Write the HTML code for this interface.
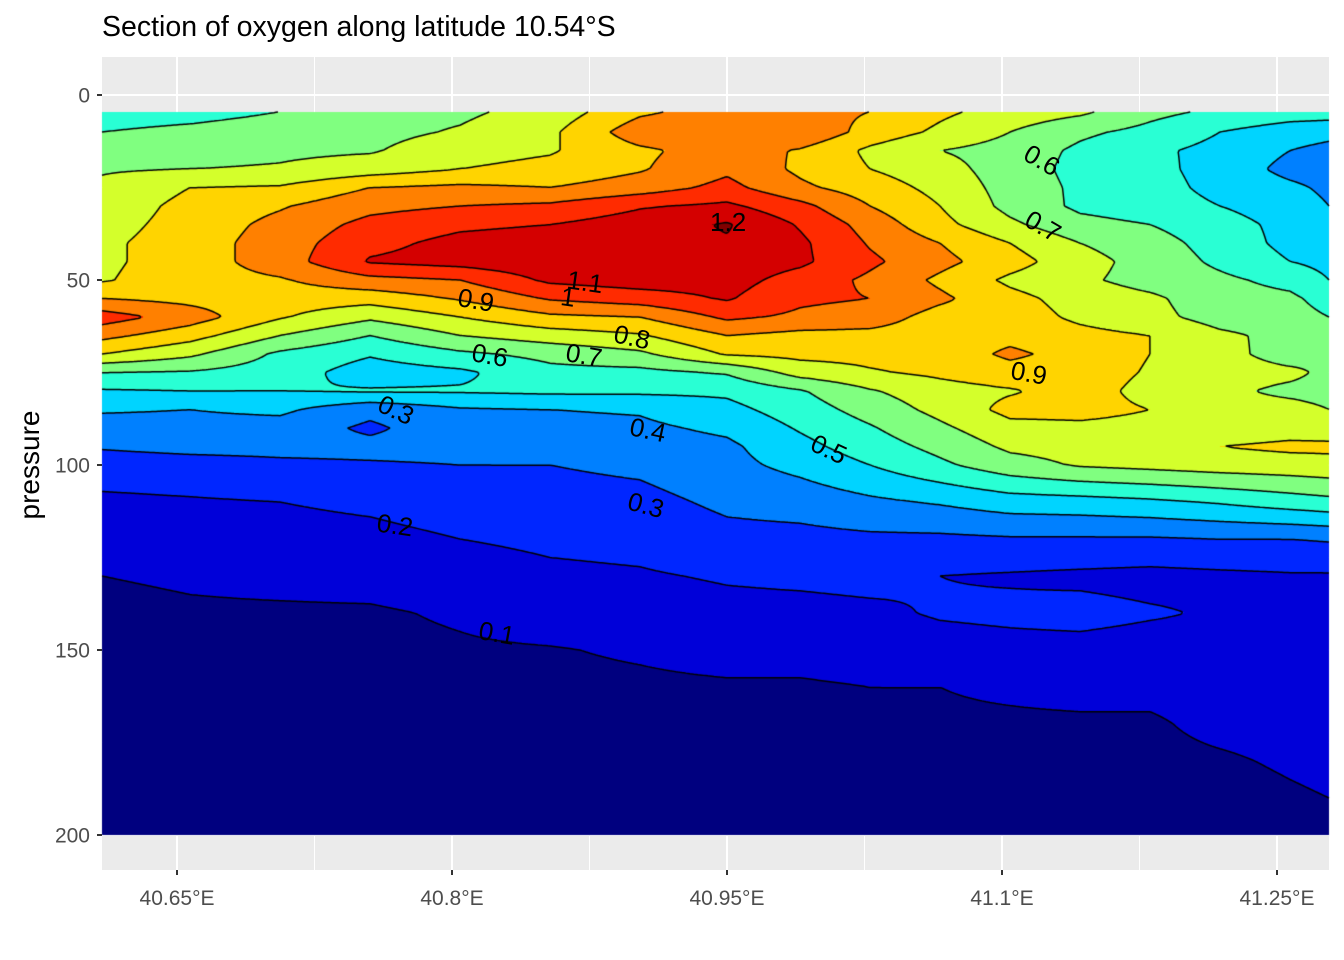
<!DOCTYPE html>
<html><head><meta charset="utf-8">
<style>
body{margin:0;background:#fff;width:1344px;height:960px;overflow:hidden;position:relative;font-family:"Liberation Sans",Arial,sans-serif}
svg,canvas{position:absolute;left:0;top:0}
</style></head>
<body>
<svg id="bg" width="1344" height="960"></svg>
<canvas id="cv" width="1344" height="960"></canvas>
<svg id="fg" width="1344" height="960">
  <text x="102" y="36" font-size="28.5" fill="#000">Section of oxygen along latitude 10.54°S</text>
  <text transform="translate(39,465) rotate(-90)" text-anchor="middle" font-size="28" fill="#000">pressure</text>
</svg>
<script>
const lons=[40.6091,40.6571,40.7062,40.7553,40.8044,40.8535,40.9025,40.95,40.9898,41.0280,41.0662,41.1044,41.1425,41.1807,41.2189,41.2571,41.2784];
const pressures=[4.5,10,15,20,25,30,35,40,45,50,55,60,65,70,75,80,85,90,95,100,110,120,130,140,150,160,170,180,190,200];
const oxy_c00=[.56,.6,.65,.69,.72,.74,.76,.78,.78,.79,.9,1.05,.93,.8,.6,.49,.41,.36,.31,.25,.18,.14,.1,.08,.07,.06,.05,.05,.04,.04];
const oxy_c01=[.57,.62,.66,.7,.8,.83,.84,.85,.85,.86,.87,.95,.84,.72,.59,.5,.4,.37,.33,.26,.19,.15,.11,.09,.08,.07,.06,.05,.05,.04];
const oxy_c02=[.6,.64,.68,.71,.81,.89,.93,.95,.95,.89,.85,.81,.7,.58,.55,.5,.42,.36,.33,.28,.2,.16,.12,.09,.08,.07,.06,.05,.05,.04];
const oxy_c03=[.66,.67,.69,.75,.9,.97,1.03,1.07,1.11,.97,.84,.72,.6,.51,.45,.51,.33,.28,.33,.29,.22,.17,.13,.09,.08,.07,.06,.06,.05,.05];
const oxy_c04=[.68,.71,.76,.8,.92,1.0,1.08,1.13,1.14,1.0,.91,.8,.7,.58,.48,.51,.39,.37,.33,.3,.25,.2,.15,.11,.09,.08,.07,.06,.06,.05];
const oxy_c05=[.74,.78,.79,.83,.9,1.02,1.1,1.15,1.17,1.12,1.01,.88,.75,.63,.57,.52,.4,.37,.33,.3,.26,.22,.18,.14,.095,.08,.07,.06,.06,.05];
const oxy_c06=[.88,.96,.88,.89,.95,1.09,1.15,1.17,1.18,1.15,1.05,.9,.79,.68,.57,.52,.41,.38,.35,.32,.27,.23,.19,.15,.11,.085,.08,.07,.06,.05];
const oxy_c07=[.95,1.0,.95,.98,1.03,1.12,1.21,1.19,1.16,1.14,1.11,1.02,.9,.81,.61,.52,.47,.42,.38,.37,.32,.27,.21,.17,.13,.09,.08,.07,.07,.06];
const oxy_c08=[.94,.99,.89,.88,.92,1.03,1.09,1.12,1.12,1.06,1.02,.98,.87,.83,.74,.59,.55,.51,.47,.43,.34,.27,.22,.17,.13,.09,.08,.07,.07,.06];
const oxy_c09=[.9,.86,.78,.8,.85,.9,.96,.99,1.02,.98,1.0,.95,.87,.83,.79,.69,.64,.59,.55,.5,.38,.28,.23,.18,.14,.1,.09,.08,.07,.06];
const oxy_c10=[.82,.78,.7,.74,.77,.8,.83,.9,.93,.88,.92,.86,.85,.84,.82,.76,.73,.68,.63,.58,.41,.28,.2,.21,.16,.1,.09,.08,.07,.06];
const oxy_c11=[.76,.7,.66,.65,.66,.67,.72,.8,.84,.78,.83,.85,.87,.92,.86,.79,.83,.77,.72,.66,.45,.29,.19,.22,.17,.11,.09,.08,.07,.06];
const oxy_c12=[.72,.62,.58,.57,.58,.58,.63,.7,.74,.72,.76,.78,.83,.86,.85,.84,.83,.78,.74,.71,.46,.29,.18,.23,.17,.12,.09,.08,.07,.06];
const oxy_c13=[.63,.57,.52,.53,.54,.55,.6,.64,.66,.66,.72,.73,.8,.8,.79,.77,.8,.77,.75,.73,.48,.29,.17,.21,.16,.12,.09,.08,.07,.06];
const oxy_c14=[.58,.5,.47,.46,.47,.5,.54,.56,.58,.62,.64,.66,.72,.73,.74,.72,.73,.74,.8,.75,.51,.3,.18,.19,.17,.13,.12,.09,.07,.06];
const oxy_c15=[.55,.45,.4,.37,.42,.45,.47,.47,.5,.57,.62,.64,.67,.66,.72,.68,.73,.76,.82,.76,.55,.3,.19,.17,.19,.15,.13,.11,.09,.08];
const oxy_c16=[.55,.43,.37,.35,.38,.4,.43,.45,.47,.5,.56,.6,.64,.69,.68,.67,.7,.75,.82,.77,.57,.31,.19,.17,.2,.15,.14,.12,.1,.09];
const oxygenColumns=[oxy_c00,oxy_c01,oxy_c02,oxy_c03,oxy_c04,oxy_c05,oxy_c06,oxy_c07,oxy_c08,oxy_c09,oxy_c10,oxy_c11,oxy_c12,oxy_c13,oxy_c14,oxy_c15,oxy_c16];
const levels=[0.1,0.2,0.3,0.4,0.5,0.6,0.7,0.8,0.9,1.0,1.1,1.2];
const bandColors=["#00007F","#0000D9","#0026FF","#0080FF","#00D4FF","#29FFD4","#80FF80","#D4FF2B","#FFD400","#FF8000","#FF2B00","#D40000","#800000"];
const xTicks=[40.65,40.8,40.95,41.1,41.25];
const xTickLabels=["40.65°E","40.8°E","40.95°E","41.1°E","41.25°E"];
const yTicks=[0,50,100,150,200];
const yTickLabels=["0","50","100","150","200"];
const labelText=["0.6","0.7","1.2","1.1","1","0.9","0.8","0.6","0.7","0.9","0.3","0.4","0.5","0.3","0.2","0.1"];
const labelLon=[41.1218,41.1224,40.9506,40.8726,40.8633,40.8131,40.8982,40.8207,40.872,41.1147,40.7695,40.9069,41.0056,40.9058,40.7689,40.8245];
const labelP=[17.6,35.4,34.3,50.5,54.6,55.4,65.4,70.3,70.3,75.1,85.1,90.5,95.7,110.8,116.2,145.4];
const labelAngle=[30,30,0,8,8,10,12,10,10,10,25,12,25,15,8,10];

function xs(lon){return 177+(lon-40.65)*1833.33;}
function ys(p){return 95+3.7*p;}
function invX(px){return 40.65+(px-177)/1833.33;}
function invY(py){return (py-95)/3.7;}
const NS="http://www.w3.org/2000/svg";
const bg=document.getElementById('bg'), fg=document.getElementById('fg');
function mk(par,tag,attrs){const e=document.createElementNS(NS,tag);for(const k in attrs)e.setAttribute(k,attrs[k]);par.appendChild(e);return e;}

const PX0=102,PX1=1329,PY0=57,PY1=870;
const panel=mk(bg,'rect',{x:PX0,y:PY0,width:PX1-PX0,height:PY1-PY0,fill:'#EBEBEB'});


for(let i=0;i<xTicks.length;i++){
  const x=xs(xTicks[i]);
  const g=mk(bg,'line',{x1:x,x2:x,y1:PY0,y2:PY1,stroke:'#fff','stroke-width':2});
  
  
  if(i<xTicks.length-1){
    const xm=xs((xTicks[i]+xTicks[i+1])/2);
    const gm=mk(bg,'line',{x1:xm,x2:xm,y1:PY0,y2:PY1,stroke:'#fff','stroke-width':1});
    
    
  }
}
for(let i=0;i<yTicks.length;i++){
  const y=ys(yTicks[i]);
  const g=mk(bg,'line',{x1:PX0,x2:PX1,y1:y,y2:y,stroke:'#fff','stroke-width':2});
  
  
  if(i<yTicks.length-1){
    const ym=ys((yTicks[i]+yTicks[i+1])/2);
    const gm=mk(bg,'line',{x1:PX0,x2:PX1,y1:ym,y2:ym,stroke:'#fff','stroke-width':1});
    
    
  }
}

function bracket(arr,v){let i=0;while(i<arr.length-2&&v>arr[i+1])i++;let t=(v-arr[i])/(arr[i+1]-arr[i]);t=Math.max(0,Math.min(1,t));return [i,t];}
function field(lon,p){
  const [ci,t]=bracket(lons,lon);const [ri,u]=bracket(pressures,p);
  const A=oxygenColumns[ci],B=oxygenColumns[ci+1];
  return (1-t)*(1-u)*A[ri]+t*(1-u)*B[ri]+(1-t)*u*A[ri+1]+t*u*B[ri+1];
}
function hexToRgb(h){return [parseInt(h.substr(1,2),16),parseInt(h.substr(3,2),16),parseInt(h.substr(5,2),16)];}
const rgb=bandColors.map(hexToRgb);
const cv=document.getElementById('cv');const ctx=cv.getContext('2d');
const X0=Math.round(xs(lons[0])),X1=Math.round(xs(lons[lons.length-1]));
const Y0=Math.round(ys(pressures[0])),Y1=Math.round(ys(pressures[pressures.length-1]));
const W=X1-X0,H=Y1-Y0;
const img=ctx.createImageData(W,H);
for(let j=0;j<H;j++){
  const p=invY(Y0+j+0.5);
  for(let i=0;i<W;i++){
    const v=field(invX(X0+i+0.5),p);
    let k=0;while(k<levels.length&&v>=levels[k])k++;
    const c=rgb[k];const o=(j*W+i)*4;
    img.data[o]=c[0];img.data[o+1]=c[1];img.data[o+2]=c[2];img.data[o+3]=255;
  }
}
ctx.putImageData(img,X0,Y0);

const S=2;const nx=Math.ceil(W/S)+1,ny=Math.ceil(H/S)+1;
const G=new Float32Array(nx*ny);
for(let j=0;j<ny;j++){const py=Math.min(Y0+j*S,Y1);const p=invY(py);
  for(let i=0;i<nx;i++){const px=Math.min(X0+i*S,X1);G[j*nx+i]=field(invX(px),p);}}
const cases={1:[[3,2]],2:[[2,1]],3:[[3,1]],4:[[0,1]],5:[[0,3],[2,1]],6:[[0,2]],7:[[0,3]],8:[[0,3]],9:[[0,2]],10:[[0,1],[3,2]],11:[[0,1]],12:[[3,1]],13:[[2,1]],14:[[3,2]]};
ctx.beginPath();
for(const L of levels){
  for(let j=0;j<ny-1;j++){
    const y0=Math.min(Y0+j*S,Y1),y1=Math.min(Y0+(j+1)*S,Y1);
    for(let i=0;i<nx-1;i++){
      const a=G[j*nx+i],b=G[j*nx+i+1],c=G[(j+1)*nx+i+1],d=G[(j+1)*nx+i];
      const idx=(a>=L?8:0)|(b>=L?4:0)|(c>=L?2:0)|(d>=L?1:0);
      if(idx===0||idx===15)continue;
      const x0=Math.min(X0+i*S,X1),x1=Math.min(X0+(i+1)*S,X1);
      const E=[
        [x0+(L-a)/(b-a)*(x1-x0),y0],
        [x1,y0+(L-b)/(c-b)*(y1-y0)],
        [x0+(L-d)/(c-d)*(x1-x0),y1],
        [x0,y0+(L-a)/(d-a)*(y1-y0)]];
      for(const s of cases[idx]){ctx.moveTo(E[s[0]][0],E[s[0]][1]);ctx.lineTo(E[s[1]][0],E[s[1]][1]);}
    }
  }
}
ctx.strokeStyle='#000';ctx.lineWidth=1.5;ctx.stroke();

for(let i=0;i<labelText.length;i++){
  const x=xs(labelLon[i]),y=ys(labelP[i]);
  const t=mk(fg,'text',{x:x,y:y,'text-anchor':'middle','dominant-baseline':'central','font-size':26,fill:'#000',transform:`rotate(${labelAngle[i]} ${x} ${y})`});
  t.textContent=labelText[i];
  
  
}
for(let i=0;i<xTicks.length;i++){
  const x=xs(xTicks[i]);
  const tk=mk(fg,'line',{x1:x,x2:x,y1:PY1,y2:PY1+5,stroke:'#333','stroke-width':2});
  
  
  const t=mk(fg,'text',{x:x,y:905,'text-anchor':'middle','font-size':21,fill:'#4D4D4D'});
  t.textContent=xTickLabels[i];
  
  
}
for(let i=0;i<yTicks.length;i++){
  const y=ys(yTicks[i]);
  const tk=mk(fg,'line',{x1:PX0-5,x2:PX0,y1:y,y2:y,stroke:'#333','stroke-width':2});
  
  
  const t=mk(fg,'text',{x:90,y:y+7.5,'text-anchor':'end','font-size':21,fill:'#4D4D4D'});
  t.textContent=yTickLabels[i];
  
  
}
</script>
</body></html>
